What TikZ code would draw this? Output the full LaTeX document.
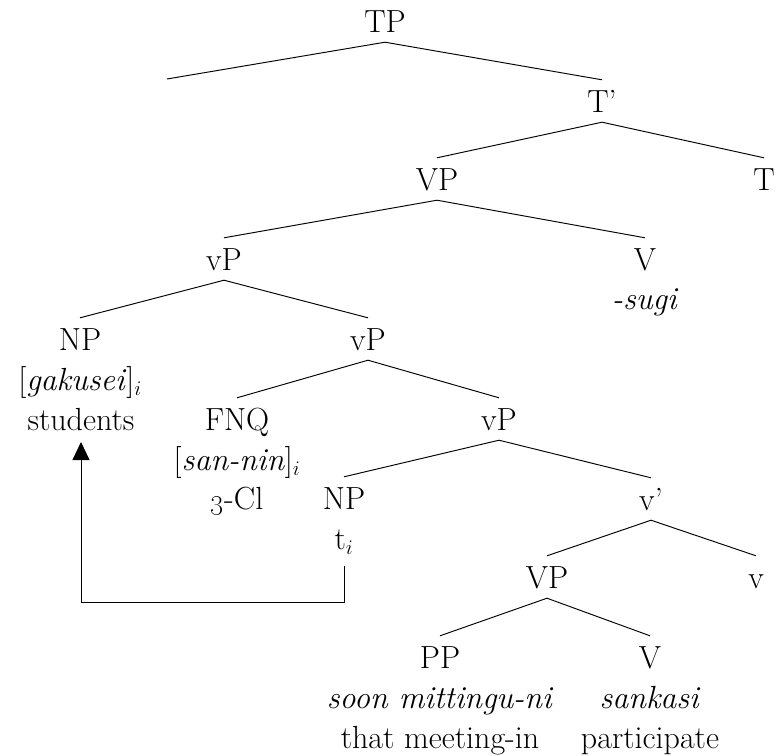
\documentclass[tikz,border=0pt]{standalone}
\usetikzlibrary{arrows.meta}
\begin{document}
\begin{tikzpicture}[x=1pt,y=-1pt,
  cat/.style={inner xsep=0pt, inner ysep=10pt, text height=22pt, text depth=0pt, anchor=base},
  gloss/.style={inner sep=0pt, anchor=base},
  branch/.style={line width=0.95pt},
  move/.style={line width=0.95pt, -{Triangle[length=18pt,width=17pt]}}]
\useasboundingbox (0,0) rectangle (776,755);
\fontsize{32}{40}\selectfont
% category labels
\node[cat] (TP)   at (385,32)  {TP};
\coordinate (spec) at (167,79);
\node[cat] (Tbar) at (602,112) {T’};
\node[cat] (VPa)  at (437,190) {VP};
\node[cat] (T)    at (764,190) {T};
\node[cat] (vPa)  at (224,270) {vP};
\node[cat] (Va)   at (645,270) {V};
\node[gloss] (sugi) at (645,309) {\textit{-sugi}};
\node[cat] (NPa)  at (80,350)  {NP};
\node[gloss] (gak)  at (80,390)  {[\textit{gakusei}]$_i$};
\node[gloss] (stud) at (81,430)  {students};
\node[cat] (vPb)  at (368,350) {vP};
\node[cat] (FNQ)  at (237,430) {FNQ};
\node[gloss] (san)  at (237,470) {[\textit{san-nin}]$_i$};
\node[gloss] (cl)   at (237,509) {\oldstylenums{3}-Cl};
\node[cat] (vPc)  at (499,430) {vP};
\node[cat] (NPb)  at (344,509) {NP};
\node[gloss] (ti)   at (344,549) {t$_i$};
\node[cat] (vbar) at (651,510) {v’};
\node[cat] (VPb)  at (547,588) {VP};
\node[cat] (vh)   at (756,588) {v};
\node[cat] (PP)   at (440,668) {PP};
\node[gloss] (soon) at (440,708) {\textit{soon mittingu-ni}};
\node[gloss] (that) at (440,748) {that meeting-in};
\node[cat] (Vb)   at (650,668) {V};
\node[gloss] (sank) at (650,708) {\textit{sankasi}};
\node[gloss] (part) at (650,748) {participate};
% branches
\draw[branch] (spec) -- (TP.south) -- (Tbar.north);
\draw[branch] (VPa.north) -- (Tbar.south) -- (T.north);
\draw[branch] (vPa.north) -- (VPa.south) -- (Va.north);
\draw[branch] (NPa.north) -- (vPa.south) -- (vPb.north);
\draw[branch] (FNQ.north) -- (vPb.south) -- (vPc.north);
\draw[branch] (NPb.north) -- (vPc.south) -- (vbar.north);
\draw[branch] (VPb.north) -- (vbar.south) -- (vh.north);
\draw[branch] (PP.north) -- (VPb.south) -- (Vb.north);
% movement arrow
\coordinate (turn) at (81,602);
\draw[move] ([yshift=-17pt]ti.base) |- (turn) -- ([yshift=-12pt]stud.base);
\end{tikzpicture}
\end{document}
